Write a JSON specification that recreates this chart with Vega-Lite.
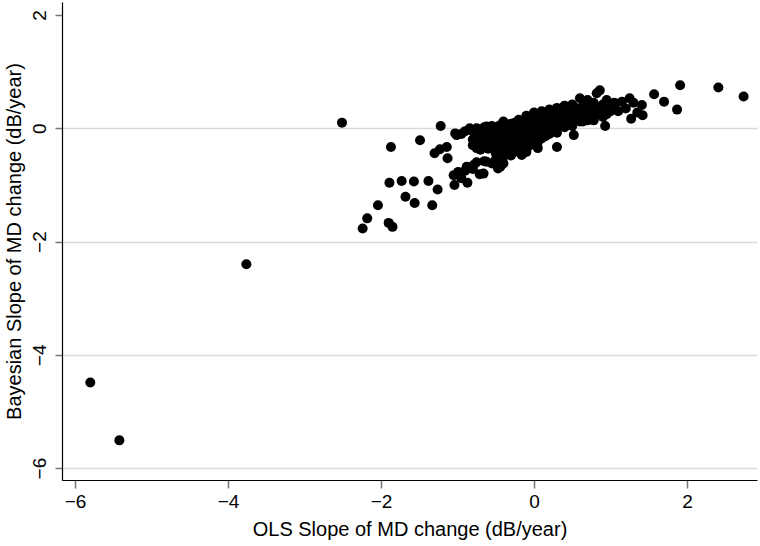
{
  "$schema": "https://vega.github.io/schema/vega-lite/v6.json",
  "width": 695,
  "height": 478,
  "autosize": {"type": "none"},
  "padding": {"left": 62, "top": 2, "right": 3, "bottom": 66},
  "background": "white",
  "config": {
    "view": {"stroke": null},
    "font": "Liberation Sans",
    "axis": {"labelFont": "Liberation Sans", "titleFont": "Liberation Sans", "labelColor": "#000", "titleColor": "#000", "titleFontWeight": "normal"}
  },
  "data": {"values": [
    {"x": -5.80, "y": -4.49}, {"x": -5.42, "y": -5.51}, {"x": -3.76, "y": -2.40}, {"x": -2.51, "y": 0.10},
    {"x": -1.87, "y": -0.33}, {"x": -1.49, "y": -0.21}, {"x": -1.22, "y": 0.04}, {"x": -1.03, "y": -0.09}, {"x": -1.01, "y": -0.12},
    {"x": -1.30, "y": -0.44}, {"x": -1.23, "y": -0.37}, {"x": -1.14, "y": -0.33}, {"x": -1.13, "y": -0.53},
    {"x": -1.89, "y": -0.96}, {"x": -1.73, "y": -0.93}, {"x": -1.57, "y": -0.94}, {"x": -1.38, "y": -0.93}, {"x": -1.26, "y": -1.08},
    {"x": -1.68, "y": -1.21}, {"x": -1.56, "y": -1.32}, {"x": -1.33, "y": -1.36}, {"x": -2.04, "y": -1.36}, {"x": -2.18, "y": -1.59},
    {"x": -2.24, "y": -1.77}, {"x": -1.90, "y": -1.67}, {"x": -1.85, "y": -1.74},
    {"x": -1.05, "y": -0.83}, {"x": -1.04, "y": -1.00}, {"x": -0.99, "y": -0.77}, {"x": -0.88, "y": -0.68}, {"x": -0.79, "y": -0.65},
    {"x": -0.71, "y": -0.81}, {"x": -0.87, "y": -0.96},
    {"x": -0.84, "y": 0.00}, {"x": -0.62, "y": 0.03}, {"x": -0.53, "y": -0.03}, {"x": -0.62, "y": -0.59}, {"x": -0.47, "y": -0.71},
    {"x": -0.44, "y": -0.68}, {"x": -0.40, "y": -0.62}, {"x": -0.66, "y": -0.80},
    {"x": -0.16, "y": -0.47}, {"x": -0.10, "y": -0.42}, {"x": 0.30, "y": -0.33}, {"x": 0.52, "y": -0.12},
    {"x": 0.60, "y": 0.53}, {"x": 0.78, "y": 0.41}, {"x": 0.82, "y": 0.62}, {"x": 0.86, "y": 0.67},
    {"x": 1.91, "y": 0.76}, {"x": 2.41, "y": 0.72}, {"x": 2.74, "y": 0.56}, {"x": 1.57, "y": 0.60}, {"x": 1.70, "y": 0.47},
    {"x": 1.87, "y": 0.33}, {"x": 1.41, "y": 0.41}, {"x": 1.42, "y": 0.23}, {"x": 1.27, "y": 0.17}, {"x": 1.25, "y": 0.53},
    {"x": 1.15, "y": 0.47}, {"x": 1.06, "y": 0.35}, {"x": 0.93, "y": 0.04}, {"x": 0.78, "y": 0.45}, {"x": 0.82, "y": 0.32},
    {"x": 0.78, "y": 0.14}, {"x": 0.64, "y": 0.12},
    {"x": -0.95, "y": -0.10}, {"x": -0.90, "y": -0.05},
    {"x": -0.95, "y": -0.88}, {"x": -0.90, "y": -0.75}, {"x": -0.80, "y": -0.72}, {"x": -0.75, "y": -0.60}, {"x": -0.65, "y": -0.58},
    {"x": -0.55, "y": -0.62}, {"x": -0.50, "y": -0.55}, {"x": -0.40, "y": -0.50}, {"x": -0.35, "y": -0.45}, {"x": -0.30, "y": -0.48},
    {"x": -0.20, "y": -0.42}, {"x": -0.10, "y": -0.38}, {"x": 0.05, "y": -0.35},
    {"x": 1.10, "y": 0.30}, {"x": 1.20, "y": 0.35}, {"x": 1.30, "y": 0.45}, {"x": 1.35, "y": 0.28}, {"x": 0.95, "y": 0.50},
    {"x": 1.05, "y": 0.45}, {"x": 0.70, "y": 0.50}, {"x": 0.65, "y": 0.45},
    {"x": -0.40, "y": 0.12}, {"x": -0.20, "y": 0.15}, {"x": -0.10, "y": 0.22}, {"x": 0.00, "y": 0.28}, {"x": 0.10, "y": 0.30},
    {"x": 0.20, "y": 0.33}, {"x": 0.30, "y": 0.36}, {"x": 0.40, "y": 0.40}, {"x": 0.50, "y": 0.42},
    {"x": -0.80, "y": -0.05}, {"x": -0.80, "y": -0.20}, {"x": -0.80, "y": -0.30},
    {"x": -0.75, "y": 0.00}, {"x": -0.75, "y": -0.12}, {"x": -0.75, "y": -0.25}, {"x": -0.75, "y": -0.35},
    {"x": -0.70, "y": -0.02}, {"x": -0.70, "y": -0.15}, {"x": -0.70, "y": -0.28}, {"x": -0.70, "y": -0.38},
    {"x": -0.65, "y": 0.02}, {"x": -0.65, "y": -0.10}, {"x": -0.65, "y": -0.22}, {"x": -0.65, "y": -0.32},
    {"x": -0.60, "y": 0.00}, {"x": -0.60, "y": -0.08}, {"x": -0.60, "y": -0.18}, {"x": -0.60, "y": -0.27}, {"x": -0.60, "y": -0.36},
    {"x": -0.55, "y": 0.04}, {"x": -0.55, "y": -0.05}, {"x": -0.55, "y": -0.14}, {"x": -0.55, "y": -0.24}, {"x": -0.55, "y": -0.33},
    {"x": -0.50, "y": 0.02}, {"x": -0.50, "y": -0.08}, {"x": -0.50, "y": -0.17}, {"x": -0.50, "y": -0.26}, {"x": -0.50, "y": -0.35}, {"x": -0.50, "y": -0.44},
    {"x": -0.45, "y": 0.05}, {"x": -0.45, "y": -0.03}, {"x": -0.45, "y": -0.12}, {"x": -0.45, "y": -0.20}, {"x": -0.45, "y": -0.30}, {"x": -0.45, "y": -0.40},
    {"x": -0.40, "y": 0.07}, {"x": -0.40, "y": -0.01}, {"x": -0.40, "y": -0.10}, {"x": -0.40, "y": -0.18}, {"x": -0.40, "y": -0.27}, {"x": -0.40, "y": -0.37},
    {"x": -0.35, "y": 0.04}, {"x": -0.35, "y": -0.05}, {"x": -0.35, "y": -0.14}, {"x": -0.35, "y": -0.22}, {"x": -0.35, "y": -0.32},
    {"x": -0.30, "y": 0.08}, {"x": -0.30, "y": 0.00}, {"x": -0.30, "y": -0.08}, {"x": -0.30, "y": -0.16}, {"x": -0.30, "y": -0.25}, {"x": -0.30, "y": -0.35},
    {"x": -0.25, "y": 0.10}, {"x": -0.25, "y": 0.02}, {"x": -0.25, "y": -0.06}, {"x": -0.25, "y": -0.14}, {"x": -0.25, "y": -0.22}, {"x": -0.25, "y": -0.31}, {"x": -0.25, "y": -0.40},
    {"x": -0.20, "y": 0.06}, {"x": -0.20, "y": -0.03}, {"x": -0.20, "y": -0.11}, {"x": -0.20, "y": -0.19}, {"x": -0.20, "y": -0.28}, {"x": -0.20, "y": -0.36},
    {"x": -0.15, "y": 0.12}, {"x": -0.15, "y": 0.04}, {"x": -0.15, "y": -0.04}, {"x": -0.15, "y": -0.12}, {"x": -0.15, "y": -0.21}, {"x": -0.15, "y": -0.30},
    {"x": -0.10, "y": 0.14}, {"x": -0.10, "y": 0.06}, {"x": -0.10, "y": -0.02}, {"x": -0.10, "y": -0.10}, {"x": -0.10, "y": -0.18}, {"x": -0.10, "y": -0.26}, {"x": -0.10, "y": -0.35},
    {"x": -0.05, "y": 0.10}, {"x": -0.05, "y": 0.02}, {"x": -0.05, "y": -0.06}, {"x": -0.05, "y": -0.14}, {"x": -0.05, "y": -0.22}, {"x": -0.05, "y": -0.30},
    {"x": 0.00, "y": 0.20}, {"x": 0.00, "y": 0.12}, {"x": 0.00, "y": 0.04}, {"x": 0.00, "y": -0.04}, {"x": 0.00, "y": -0.12}, {"x": 0.00, "y": -0.20}, {"x": 0.00, "y": -0.28},
    {"x": 0.05, "y": 0.16}, {"x": 0.05, "y": 0.08}, {"x": 0.05, "y": 0.00}, {"x": 0.05, "y": -0.08}, {"x": 0.05, "y": -0.16}, {"x": 0.05, "y": -0.24},
    {"x": 0.10, "y": 0.22}, {"x": 0.10, "y": 0.14}, {"x": 0.10, "y": 0.06}, {"x": 0.10, "y": -0.02}, {"x": 0.10, "y": -0.10}, {"x": 0.10, "y": -0.18},
    {"x": 0.15, "y": 0.25}, {"x": 0.15, "y": 0.18}, {"x": 0.15, "y": 0.10}, {"x": 0.15, "y": 0.02}, {"x": 0.15, "y": -0.06}, {"x": 0.15, "y": -0.14},
    {"x": 0.20, "y": 0.22}, {"x": 0.20, "y": 0.14}, {"x": 0.20, "y": 0.06}, {"x": 0.20, "y": -0.02}, {"x": 0.20, "y": -0.10},
    {"x": 0.25, "y": 0.30}, {"x": 0.25, "y": 0.20}, {"x": 0.25, "y": 0.12}, {"x": 0.25, "y": 0.04}, {"x": 0.25, "y": -0.05},
    {"x": 0.30, "y": 0.26}, {"x": 0.30, "y": 0.18}, {"x": 0.30, "y": 0.10}, {"x": 0.30, "y": 0.02}, {"x": 0.30, "y": -0.08},
    {"x": 0.35, "y": 0.32}, {"x": 0.35, "y": 0.22}, {"x": 0.35, "y": 0.14}, {"x": 0.35, "y": 0.05},
    {"x": 0.40, "y": 0.28}, {"x": 0.40, "y": 0.20}, {"x": 0.40, "y": 0.12}, {"x": 0.40, "y": 0.02},
    {"x": 0.45, "y": 0.34}, {"x": 0.45, "y": 0.26}, {"x": 0.45, "y": 0.16}, {"x": 0.45, "y": 0.08},
    {"x": 0.50, "y": 0.30}, {"x": 0.50, "y": 0.22}, {"x": 0.50, "y": 0.12}, {"x": 0.50, "y": 0.04},
    {"x": 0.55, "y": 0.36}, {"x": 0.55, "y": 0.26}, {"x": 0.55, "y": 0.18},
    {"x": 0.60, "y": 0.32}, {"x": 0.60, "y": 0.22}, {"x": 0.60, "y": 0.12},
    {"x": 0.65, "y": 0.38}, {"x": 0.65, "y": 0.28}, {"x": 0.65, "y": 0.18},
    {"x": 0.70, "y": 0.34}, {"x": 0.70, "y": 0.24}, {"x": 0.70, "y": 0.14},
    {"x": 0.75, "y": 0.40}, {"x": 0.75, "y": 0.30}, {"x": 0.75, "y": 0.20},
    {"x": 0.85, "y": 0.36}, {"x": 0.85, "y": 0.26},
    {"x": 0.90, "y": 0.42}, {"x": 0.90, "y": 0.30}, {"x": 0.90, "y": 0.20},
    {"x": 0.95, "y": 0.38}, {"x": 0.95, "y": 0.25},
    {"x": 1.00, "y": 0.40}, {"x": 1.00, "y": 0.30}
  ]},
  "mark": {"type": "circle", "color": "#000", "opacity": 1, "size": 100},
  "encoding": {
    "x": {
      "field": "x", "type": "quantitative",
      "scale": {"domain": [-6.17, 2.915], "nice": false, "zero": false},
      "axis": {
        "values": [-6, -4, -2, 0, 2], "grid": false,
        "title": "OLS Slope of MD change (dB/year)",
        "titleFontSize": 20, "labelFontSize": 19,
        "domainColor": "#000", "domainWidth": 1.2,
        "tickColor": "#777", "tickSize": 8, "tickWidth": 1.5,
        "labelPadding": 4, "titlePadding": 8
      }
    },
    "y": {
      "field": "y", "type": "quantitative",
      "scale": {"domain": [-6.21, 2.23], "nice": false, "zero": false},
      "axis": {
        "values": [-6, -4, -2, 0, 2], "grid": true,
        "gridColor": "#d9d9d9", "gridWidth": 1.5,
        "gridOpacity": {"condition": {"test": "datum.value == 2", "value": 0}, "value": 1},
        "title": "Bayesian Slope of MD change (dB/year)",
        "titleFontSize": 20, "labelFontSize": 19,
        "labelAngle": -90, "labelAlign": "center", "labelBaseline": "bottom",
        "domainColor": "#000", "domainWidth": 1.2,
        "tickColor": "#777", "tickSize": 7, "tickWidth": 1.5,
        "labelPadding": 6, "titlePadding": 6
      }
    }
  }
}
